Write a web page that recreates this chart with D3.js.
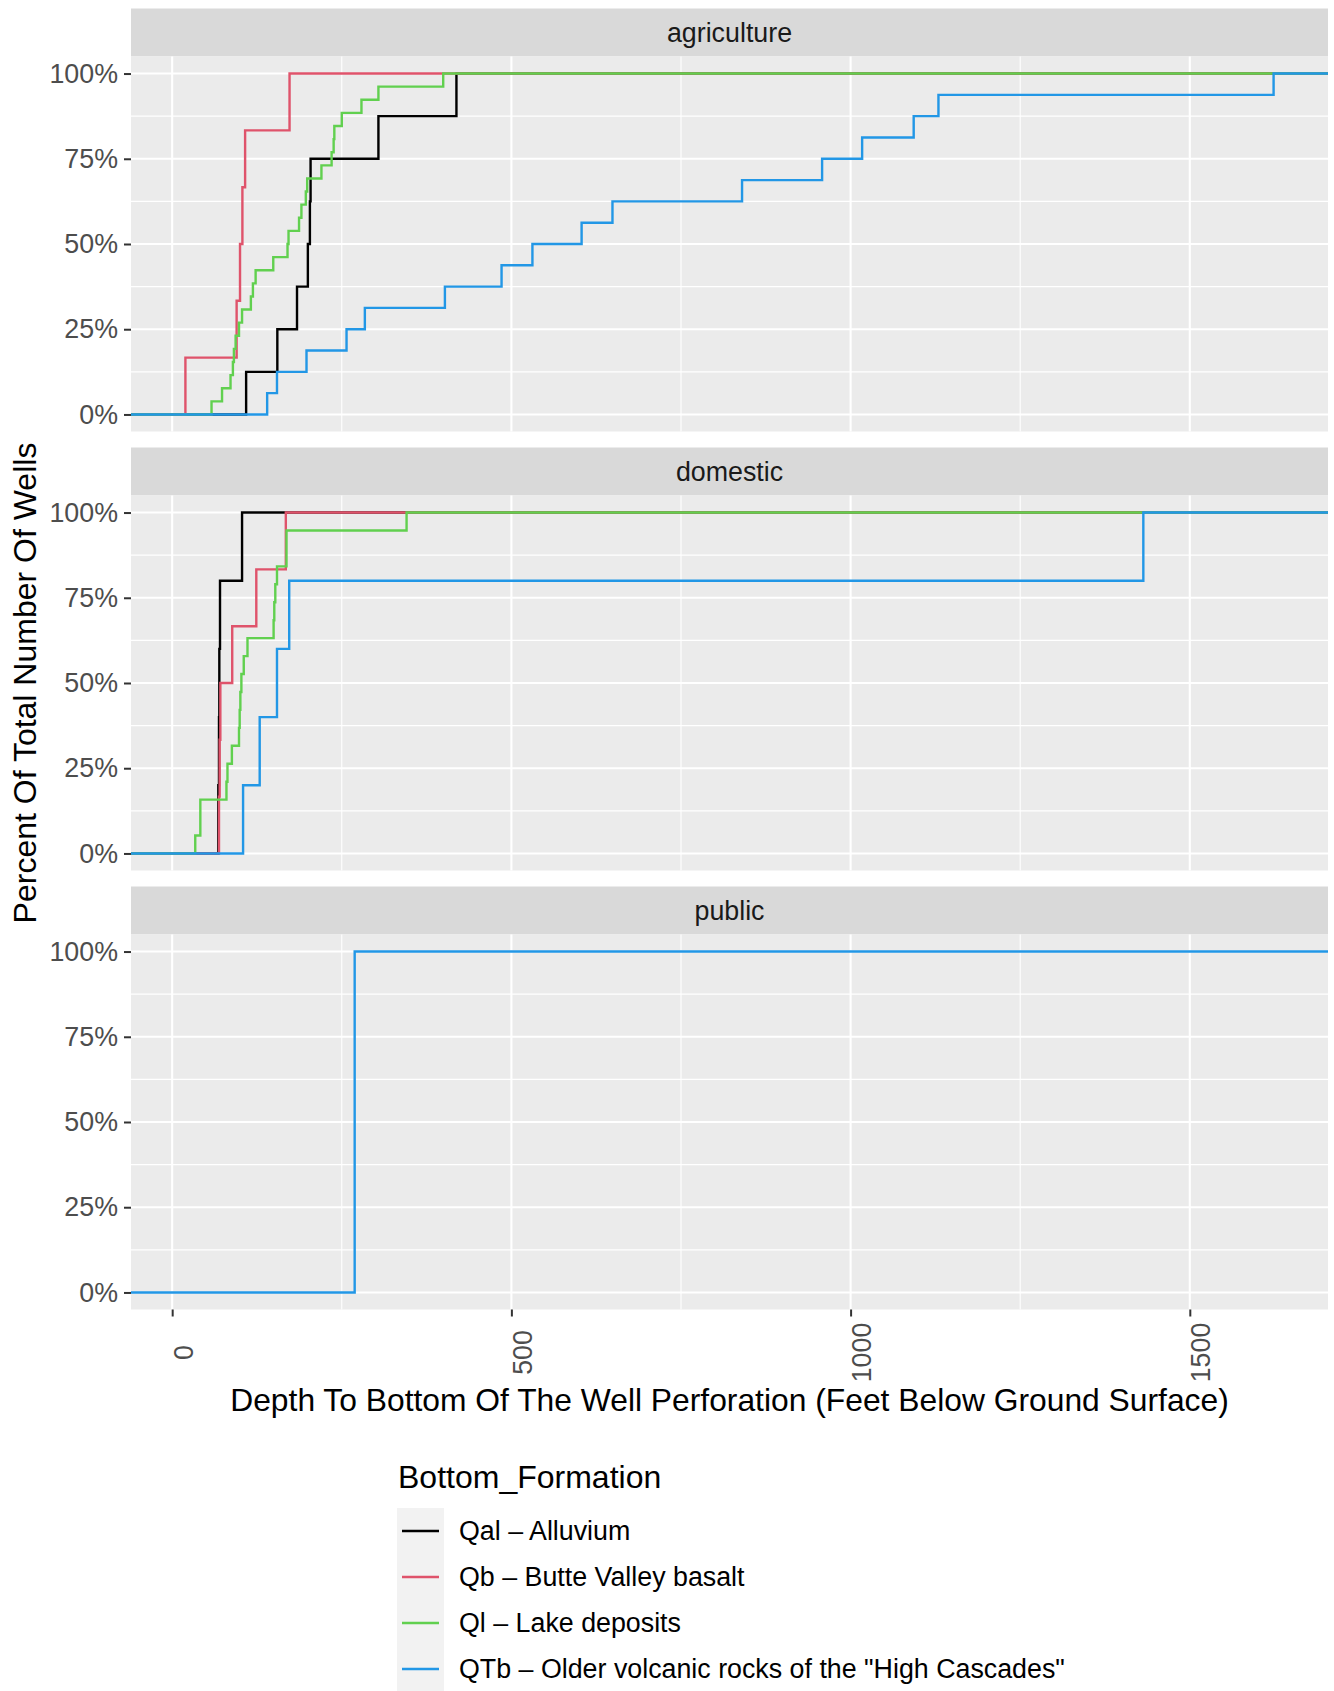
<!DOCTYPE html>
<html>
<head>
<meta charset="utf-8">
<script src="https://cdn.jsdelivr.net/npm/d3@7"></script>
<style>
  body { margin: 0; background: #fff; }
  text { font-family: "Liberation Sans", Arial, sans-serif; }
</style>
</head>
<body>
<div id="chart"></div>
<script>
var facets = ["agriculture", "domestic", "public"];
var formations = ["Qal \u2013 Alluvium", "Qb \u2013 Butte Valley basalt", "Ql \u2013 Lake deposits",
  "QTb \u2013 Older volcanic rocks of the \"High Cascades\""];
var colors = ["#000000", "#DF536B", "#61D04F", "#2297E6"];

// depth to bottom of perforation (ft) per well, by use and formation
var agQal = [109, 155, 184, 200, 203, 204, 304, 419];
var agQb = [19.5, 95, 100, 103.5, 107.5, 173];
var agQl = [58, 73.5, 86, 89.5, 91, 93.5, 98.5, 103, 116, 119, 123, 149, 170, 171.5, 187, 190.5,
  197, 199, 220, 235, 238, 239, 250, 279, 304, 399.5];
var agQTb = [140, 154.5, 198, 257, 284, 402, 485.5, 531, 603.5, 649, 840, 958, 1017, 1093, 1129.5, 1623.5];
var doQal = [68, 69, 69.5, 70.5, 103];
var doQb = [69, 70, 71, 88.5, 124, 167.5];
var doQl = [34, 41.5, 41.5, 80, 81.5, 88, 98.5, 99.5, 100.5, 102, 105.5, 111, 149.5, 150.5, 152,
  154.5, 168.5, 168.5, 345.5];
var doQTb = [104.5, 129, 154.5, 172.5, 1431.5];
var puQTb = [269];

var yTicks = [0, 0.25, 0.5, 0.75, 1];
var yMinor = [0.125, 0.375, 0.625, 0.875];
var xTicks = [0, 500, 1000, 1500];
var xMinor = [250, 750, 1250];

var series = [
  {facet: 0, f: 0, values: agQal}, {facet: 0, f: 1, values: agQb},
  {facet: 0, f: 2, values: agQl}, {facet: 0, f: 3, values: agQTb},
  {facet: 1, f: 0, values: doQal}, {facet: 1, f: 1, values: doQb},
  {facet: 1, f: 2, values: doQl}, {facet: 1, f: 3, values: doQTb},
  {facet: 2, f: 3, values: puQTb}
];

var W = 1334, H = 1691;
var left = 131, right = 1328;
var stripTop = 8.5, stripH = 48, panelH = 375, gap = 16;
var small = 26.8;

var svg = d3.select("#chart").append("svg")
  .attr("width", W).attr("height", H);

// fixed x scale across facets, 5% expansion like ggplot
var all = d3.merge(series.map(function(s) { return s.values; }));
var lo = d3.min(all), hi = d3.max(all), pad = (hi - lo) * 0.05;
var x = d3.scaleLinear().domain([lo - pad, hi + pad]).range([left, right]);

facets.forEach(function(name, i) {
  var top = stripTop + stripH + i * (stripH + panelH + gap);
  var y = d3.scaleLinear().domain([-0.05, 1.05]).range([top + panelH, top]);
  var g = svg.append("g");

  // strip
  g.append("rect").attr("x", left).attr("y", top - stripH)
    .attr("width", right - left).attr("height", stripH).attr("fill", "#D9D9D9");
  g.append("text").attr("x", (left + right) / 2).attr("y", top - stripH / 2)
    .attr("text-anchor", "middle").attr("dominant-baseline", "central")
    .attr("font-size", small).attr("fill", "#1A1A1A").text(name);

  // panel + grid
  g.append("rect").attr("x", left).attr("y", top)
    .attr("width", right - left).attr("height", panelH).attr("fill", "#EBEBEB");
  g.selectAll(".ymin").data(yMinor).enter().append("line")
    .attr("x1", left).attr("x2", right).attr("y1", y).attr("y2", y)
    .attr("stroke", "#fff").attr("stroke-width", 1.1);
  g.selectAll(".xmin").data(xMinor).enter().append("line")
    .attr("y1", top).attr("y2", top + panelH).attr("x1", x).attr("x2", x)
    .attr("stroke", "#fff").attr("stroke-width", 1.1);
  g.selectAll(".ymaj").data(yTicks).enter().append("line")
    .attr("x1", left).attr("x2", right).attr("y1", y).attr("y2", y)
    .attr("stroke", "#fff").attr("stroke-width", 2.1);
  g.selectAll(".xmaj").data(xTicks).enter().append("line")
    .attr("y1", top).attr("y2", top + panelH).attr("x1", x).attr("x2", x)
    .attr("stroke", "#fff").attr("stroke-width", 2.1);

  // y axis
  var ya = g.append("g").attr("transform", "translate(" + left + ",0)")
    .call(d3.axisLeft(y).tickValues(yTicks).tickFormat(d3.format(".0%")).tickSize(7).tickPadding(6));
  ya.select(".domain").remove();
  ya.selectAll("line").attr("stroke", "#333333").attr("stroke-width", 2);
  ya.selectAll("text").attr("font-size", small).attr("fill", "#4D4D4D")
    .attr("font-family", "Liberation Sans, Arial, sans-serif");

  // ecdf steps
  var line = d3.line()
    .x(function(d) { return d[0] === -Infinity ? left : d[0] === Infinity ? right : x(d[0]); })
    .y(function(d) { return y(d[1]); })
    .curve(d3.curveStepAfter);
  series.filter(function(s) { return s.facet === i; }).forEach(function(s) {
    var v = s.values.slice().sort(d3.ascending);
    var pts = [[-Infinity, 0]];
    v.forEach(function(d, k) { pts.push([d, (k + 1) / v.length]); });
    pts.push([Infinity, 1]);
    g.append("path").datum(pts).attr("d", line)
      .attr("fill", "none").attr("stroke", colors[s.f]).attr("stroke-width", 2.4);
  });

  // x axis on bottom facet only
  if (i === facets.length - 1) {
    var xa = svg.append("g").attr("transform", "translate(0," + (top + panelH) + ")")
      .call(d3.axisBottom(x).tickValues(xTicks).tickSize(7).tickFormat(d3.format("d")));
    xa.select(".domain").remove();
    xa.selectAll("line").attr("stroke", "#333333").attr("stroke-width", 2);
    xa.selectAll("text").attr("font-size", small).attr("fill", "#4D4D4D")
      .attr("font-family", "Liberation Sans, Arial, sans-serif")
      .attr("text-anchor", "middle").attr("dy", null)
      .attr("transform", "translate(20,43) rotate(-90)")
      .attr("x", 0).attr("y", 0);
  }
});

// axis titles
svg.append("text").attr("x", (left + right) / 2).attr("y", 1411)
  .attr("text-anchor", "middle").attr("font-size", 31.8).attr("fill", "#000")
  .text("Depth To Bottom Of The Well Perforation (Feet Below Ground Surface)");
svg.append("text").attr("transform", "translate(36,683) rotate(-90)")
  .attr("text-anchor", "middle").attr("font-size", 32).attr("fill", "#000")
  .text("Percent Of Total Number Of Wells");

// legend
var leg = svg.append("g");
leg.append("text").attr("x", 398).attr("y", 1488).attr("font-size", 32).text("Bottom_Formation");
leg.append("rect").attr("x", 397).attr("y", 1508).attr("width", 47).attr("height", 184).attr("fill", "#F2F2F2");
var rows = leg.selectAll(".key").data(formations).enter().append("g")
  .attr("transform", function(d, k) { return "translate(0," + (1531 + k * 46) + ")"; });
rows.append("line").attr("x1", 402).attr("x2", 439).attr("y1", 0).attr("y2", 0)
  .attr("stroke", function(d, k) { return colors[k]; }).attr("stroke-width", 2.4);
rows.append("text").attr("x", 459).attr("y", 0).attr("dominant-baseline", "central")
  .attr("font-size", small).attr("fill", "#000").text(function(d) { return d; });
</script>
</body>
</html>
